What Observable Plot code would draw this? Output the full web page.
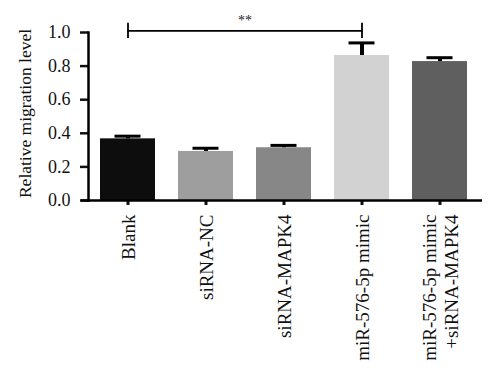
<!DOCTYPE html>
<html>
<head>
<meta charset="utf-8">
<script src="https://cdn.jsdelivr.net/npm/d3@7"></script>
<script src="https://cdn.jsdelivr.net/npm/@observablehq/plot@0.6"></script>
<style>
  html, body { margin: 0; padding: 0; background: #fff; }
  #chart svg { display: block; }
</style>
</head>
<body>
<div id="chart"></div>
<script>
const categories = ["Blank", "siRNA-NC", "siRNA-MAPK4", "miR-576-5p mimic", "miR-576-5p mimic\n+siRNA-MAPK4"];
const values = [0.367, 0.292, 0.314, 0.863, 0.827];
const errors = [0.016, 0.019, 0.014, 0.075, 0.023];
const colors = ["#0d0d0d", "#9e9e9e", "#878787", "#d2d2d2", "#5f5f5f"];
const yTicks = [0, 0.2, 0.4, 0.6, 0.8, 1.0];
const sigPair = ["Blank", "miR-576-5p mimic"];
const sigLabel = "**";
const sigY = 1.01;

const data = categories.map((c, i) => ({cat: c, value: values[i], hi: values[i] + errors[i], color: colors[i]}));
const bracket = sigPair.map(c => ({cat: c, y: sigY}));

const font = "Liberation Serif, Times New Roman, serif";

const chart = Plot.plot({
  width: 500,
  height: 380,
  marginLeft: 88,
  marginRight: 20,
  marginTop: 32,
  marginBottom: 180,
  style: {fontFamily: font, fontSize: "18px", color: "#111", background: "#fff"},
  x: {domain: categories, paddingInner: 0.29, paddingOuter: 0.145, label: null},
  y: {domain: [0, 1], ticks: yTicks, label: null},
  marks: [
    Plot.barY(data, {x: "cat", y: "value", fill: "color"}),
    Plot.ruleX(data, {x: "cat", y1: "value", y2: "hi", stroke: "#000", strokeWidth: 4}),
    Plot.tickY(data, {x: "cat", y: "hi", stroke: "#000", strokeWidth: 3, insetLeft: 14.5, insetRight: 14.5}),
    Plot.axisY({ticks: yTicks, tickFormat: d3.format(".1f"), tickSize: 8, tickPadding: 10, strokeWidth: 2.5, fontSize: 18, label: null}),
    Plot.axisX({tickRotate: -90, tickSize: 5, tickPadding: 9, strokeWidth: 3, fontSize: 19, label: null, lineHeight: 1.15}),
    Plot.frame({anchor: "left", stroke: "#000", strokeWidth: 2.5}),
    Plot.ruleY([0], {stroke: "#000", strokeWidth: 2.5, insetLeft: -7, insetRight: -2}),
    Plot.line(bracket, {x: "cat", y: "y", stroke: "#000", strokeWidth: 1.8}),
    Plot.ruleX(bracket, {x: "cat", y1: d => d.y - 0.045, y2: d => d.y + 0.045, stroke: "#000", strokeWidth: 1.8}),
    Plot.text([sigLabel], {
      x: () => sigPair[0], y: () => sigY, text: d => d, dy: -10, fontSize: 14, fill: "#222",
      render(index, scales, values, dimensions, context, next) {
        const mid = (scales.x(sigPair[0]) + scales.x(sigPair[1])) / 2;
        return next(index, scales, {...values, x: Float64Array.from(index, () => mid)}, dimensions, context);
      }
    }),
    Plot.text(["Relative migration level"], {frameAnchor: "left", textAnchor: "middle", text: d => d, rotate: -90, dx: -63, dy: -3, fontSize: 17.5})
  ]
});
document.getElementById("chart").appendChild(chart);
</script>
</body>
</html>
